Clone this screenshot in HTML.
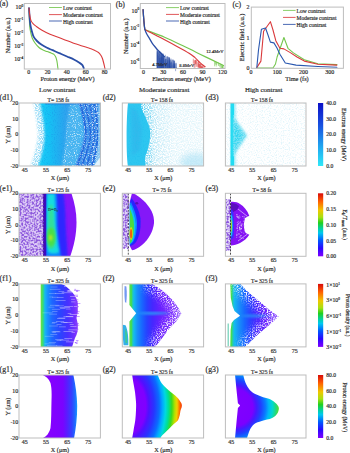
<!DOCTYPE html>
<html><head><meta charset="utf-8"><style>
html,body{margin:0;padding:0;background:#fff;width:350px;height:453px;overflow:hidden}
svg{display:block}
text{font-family:"Liberation Serif",serif;stroke:#2a2a2a;stroke-width:0.18px}
</style></head><body>
<svg width="350" height="453" viewBox="0 0 350 453">
<defs><linearGradient id="cbE" x1="0" y1="0" x2="0" y2="1">
<stop offset="0" stop-color="#0c10c8"/><stop offset="0.35" stop-color="#1850e0"/><stop offset="0.7" stop-color="#20a8f0"/><stop offset="1" stop-color="#30e8f8"/></linearGradient><linearGradient id="cbJ" x1="0" y1="0" x2="0" y2="1"><stop offset="0" stop-color="#d80a0a"/><stop offset="0.13" stop-color="#ff6000"/><stop offset="0.27" stop-color="#f0c800"/><stop offset="0.38" stop-color="#a8e010"/><stop offset="0.47" stop-color="#20d020"/><stop offset="0.57" stop-color="#00d0b0"/><stop offset="0.63" stop-color="#00c8f0"/><stop offset="0.75" stop-color="#0058ff"/><stop offset="0.87" stop-color="#2808ff"/><stop offset="1" stop-color="#8000ff"/></linearGradient><clipPath id="cp00"><rect x="19" y="103" width="81.40" height="63"/></clipPath><clipPath id="cp01"><rect x="122.3" y="103" width="81.30" height="63"/></clipPath><clipPath id="cp02"><rect x="225.4" y="103" width="80.60" height="63"/></clipPath><clipPath id="cp10"><rect x="19" y="193.3" width="81.40" height="63"/></clipPath><clipPath id="cp11"><rect x="122.3" y="193.3" width="81.30" height="63"/></clipPath><clipPath id="cp12"><rect x="225.4" y="193.3" width="80.60" height="63"/></clipPath><clipPath id="cp20"><rect x="19" y="283.9" width="81.40" height="63"/></clipPath><clipPath id="cp21"><rect x="122.3" y="283.9" width="81.30" height="63"/></clipPath><clipPath id="cp22"><rect x="225.4" y="283.9" width="80.60" height="63"/></clipPath><clipPath id="cp30"><rect x="19" y="375" width="81.40" height="63"/></clipPath><clipPath id="cp31"><rect x="122.3" y="375" width="81.30" height="63"/></clipPath><clipPath id="cp32"><rect x="225.4" y="375" width="80.60" height="63"/></clipPath><filter id="bl05" x="-30%" y="-30%" width="160%" height="160%"><feGaussianBlur stdDeviation="0.5"/></filter><filter id="bl1" x="-30%" y="-30%" width="160%" height="160%"><feGaussianBlur stdDeviation="0.8"/></filter><filter id="bl2" x="-30%" y="-30%" width="160%" height="160%"><feGaussianBlur stdDeviation="1.6"/></filter><filter id="bl3" x="-30%" y="-30%" width="160%" height="160%"><feGaussianBlur stdDeviation="3"/></filter><linearGradient id="gd1" gradientUnits="userSpaceOnUse" x1="33" y1="0" x2="100" y2="0">
<stop offset="0" stop-color="#40d4f6"/><stop offset="0.08" stop-color="#18cef8"/><stop offset="0.25" stop-color="#16c0f4"/><stop offset="0.4" stop-color="#24acf0"/><stop offset="0.5" stop-color="#30a2ee"/><stop offset="1" stop-color="#3494ea"/></linearGradient><filter id="nzW1" x="0" y="0" width="100%" height="100%" filterUnits="objectBoundingBox" color-interpolation-filters="sRGB"><feTurbulence type="fractalNoise" baseFrequency="0.9" numOctaves="1" seed="5"/><feColorMatrix type="matrix" values="0 0 0 0 1.000  0 0 0 0 1.000  0 0 0 0 1.000  4 0 0 0 -2.15"/></filter><filter id="nzW2" x="0" y="0" width="100%" height="100%" filterUnits="objectBoundingBox" color-interpolation-filters="sRGB"><feTurbulence type="fractalNoise" baseFrequency="0.9" numOctaves="1" seed="11"/><feColorMatrix type="matrix" values="0 0 0 0 1.000  0 0 0 0 1.000  0 0 0 0 1.000  4 0 0 0 -2.05"/></filter><filter id="nzB1" x="0" y="0" width="100%" height="100%" filterUnits="objectBoundingBox" color-interpolation-filters="sRGB"><feTurbulence type="fractalNoise" baseFrequency="0.9" numOctaves="1" seed="7"/><feColorMatrix type="matrix" values="0 0 0 0 0.110  0 0 0 0 0.416  0 0 0 0 0.847  4 0 0 0 -2.0"/></filter><filter id="nzC1" x="0" y="0" width="100%" height="100%" filterUnits="objectBoundingBox" color-interpolation-filters="sRGB"><feTurbulence type="fractalNoise" baseFrequency="0.9" numOctaves="1" seed="13"/><feColorMatrix type="matrix" values="0 0 0 0 0.102  0 0 0 0 0.596  0 0 0 0 0.910  4 0 0 0 -2.1"/></filter><mask id="mkd1lens" maskUnits="userSpaceOnUse" x="19" y="100" width="85" height="70"><path d="M71,100 C68.5,110 66.5,122 66,134 C65.5,146 63.5,156 61,169 L74.5,169 C79,156 82.5,146 84,134 C83.5,122 81,111 78,100 Z" fill="#fff" filter="url(#bl1)"/></mask><clipPath id="cpd1band"><path d="M78,102 C81,111 83.5,122 84,134 C82.5,146 79,156 74.5,167 L94,167 C96.5,158 98.4,146 98.4,134 L98.4,102 Z"/></clipPath><clipPath id="cpd1fill"><path d="M35.6,102 L36.5,106 L37.8,110 L38.2,114 L39.5,118 L39.8,122 L40.8,126 L40.6,130 L41.2,134 L40.4,138 L40.6,142 L39.6,146 L39.2,150 L38,154 L37.2,158 L35.2,162 L33,167 L101,167 L101,102 Z"/></clipPath><mask id="mkd1fr" maskUnits="userSpaceOnUse" x="19" y="100" width="40" height="70"><path d="M32.5,100 L39.5,100 C41.5,110 44,122 44.5,134 C44.5,146 41.5,156 37.5,169 L30,169 C33.5,156 37.5,146 38,134 C37.5,122 35,110 32.5,100 Z" fill="#fff" filter="url(#bl1)"/></mask><linearGradient id="gd2bg" gradientUnits="userSpaceOnUse" x1="138" y1="0" x2="204" y2="0">
<stop offset="0" stop-color="#58cef2"/><stop offset="0.12" stop-color="#90dcf4"/><stop offset="0.3" stop-color="#c8ecf8"/><stop offset="0.55" stop-color="#e2f5fb"/><stop offset="1" stop-color="#e6f6fb"/></linearGradient><filter id="nzW3" x="0" y="0" width="100%" height="100%" filterUnits="objectBoundingBox" color-interpolation-filters="sRGB"><feTurbulence type="fractalNoise" baseFrequency="0.85" numOctaves="1" seed="21"/><feColorMatrix type="matrix" values="0 0 0 0 1.000  0 0 0 0 1.000  0 0 0 0 1.000  4 0 0 0 -1.5"/></filter><filter id="nzC3" x="0" y="0" width="100%" height="100%" filterUnits="objectBoundingBox" color-interpolation-filters="sRGB"><feTurbulence type="fractalNoise" baseFrequency="0.85" numOctaves="1" seed="23"/><feColorMatrix type="matrix" values="0 0 0 0 0.133  0 0 0 0 0.753  0 0 0 0 0.933  4 0 0 0 -2.15"/></filter><filter id="nzW4" x="0" y="0" width="100%" height="100%" filterUnits="objectBoundingBox" color-interpolation-filters="sRGB"><feTurbulence type="fractalNoise" baseFrequency="0.85" numOctaves="1" seed="31"/><feColorMatrix type="matrix" values="0 0 0 0 1.000  0 0 0 0 1.000  0 0 0 0 1.000  4 0 0 0 -1.1"/></filter><filter id="nzW5" x="0" y="0" width="100%" height="100%" filterUnits="objectBoundingBox" color-interpolation-filters="sRGB"><feTurbulence type="fractalNoise" baseFrequency="0.7" numOctaves="1" seed="41"/><feColorMatrix type="matrix" values="0 0 0 0 1.000  0 0 0 0 1.000  0 0 0 0 1.000  4 0 0 0 -1.45"/></filter><filter id="nzP5" x="0" y="0" width="100%" height="100%" filterUnits="objectBoundingBox" color-interpolation-filters="sRGB"><feTurbulence type="fractalNoise" baseFrequency="0.55" numOctaves="1" seed="43"/><feColorMatrix type="matrix" values="0 0 0 0 0.549  0 0 0 0 0.345  0 0 0 0 0.863  4 0 0 0 -1.6"/></filter><linearGradient id="gf1" gradientUnits="userSpaceOnUse" x1="40.7" y1="0" x2="78" y2="0">
<stop offset="0" stop-color="#70e040"/><stop offset="0.04" stop-color="#48e060"/><stop offset="0.08" stop-color="#28d0a0"/><stop offset="0.11" stop-color="#18b8f0"/><stop offset="0.18" stop-color="#1894ff"/><stop offset="0.3" stop-color="#1c68ff"/><stop offset="0.52" stop-color="#2a44ff"/><stop offset="0.73" stop-color="#4830ff"/><stop offset="0.9" stop-color="#7030ff"/><stop offset="1" stop-color="#8a40ff"/></linearGradient><linearGradient id="gf2" gradientUnits="userSpaceOnUse" x1="129.4" y1="0" x2="181.4" y2="0">
<stop offset="0" stop-color="#58e048"/><stop offset="0.04" stop-color="#40dc58"/><stop offset="0.065" stop-color="#20c8c0"/><stop offset="0.09" stop-color="#14b8f0"/><stop offset="0.15" stop-color="#1890f8"/><stop offset="0.24" stop-color="#1868ff"/><stop offset="0.34" stop-color="#2840ff"/><stop offset="0.44" stop-color="#4428ff"/><stop offset="0.6" stop-color="#6a20ff"/><stop offset="0.8" stop-color="#8030ff"/><stop offset="1" stop-color="#a878ff"/></linearGradient><filter id="nzW6" x="0" y="0" width="100%" height="100%" filterUnits="objectBoundingBox" color-interpolation-filters="sRGB"><feTurbulence type="fractalNoise" baseFrequency="0.8" numOctaves="1" seed="61"/><feColorMatrix type="matrix" values="0 0 0 0 1.000  0 0 0 0 1.000  0 0 0 0 1.000  4 0 0 0 -1.7"/></filter><mask id="mkf2" maskUnits="userSpaceOnUse" x="115" y="275" width="95" height="80"><path d="M148,281 L151.6,283.9 L158.1,287.6 L165.6,293.1 L173,300.6 L178.6,308 L181.4,313.6 L176.7,321 L169.3,328.4 L163.7,335.9 L158.1,343.3 L154.4,349" fill="none" stroke="#fff" stroke-width="16" filter="url(#bl3)"/></mask><linearGradient id="gf3" gradientUnits="userSpaceOnUse" x1="229.6" y1="0" x2="279" y2="0">
<stop offset="0" stop-color="#58e048"/><stop offset="0.04" stop-color="#40dc58"/><stop offset="0.07" stop-color="#20c8c0"/><stop offset="0.1" stop-color="#14b8f0"/><stop offset="0.19" stop-color="#1890f8"/><stop offset="0.3" stop-color="#1868ff"/><stop offset="0.42" stop-color="#2c40ff"/><stop offset="0.54" stop-color="#4828ff"/><stop offset="0.74" stop-color="#6a20ff"/><stop offset="1" stop-color="#a878ff"/></linearGradient><mask id="mkf3" maskUnits="userSpaceOnUse" x="220" y="275" width="95" height="80"><path d="M236,280 L240.1,283.9 L247.3,291.3 L258.4,300.6 L269.6,309.9 L278.9,316.4 L269.6,324.7 L258.4,334 L249.1,343.3 L243.6,349" fill="none" stroke="#fff" stroke-width="16" filter="url(#bl3)"/></mask><linearGradient id="gg1" gradientUnits="userSpaceOnUse" x1="51" y1="0" x2="77.5" y2="0">
<stop offset="0" stop-color="#8400ff"/><stop offset="0.45" stop-color="#7a04ff"/><stop offset="0.6" stop-color="#5a1cff"/><stop offset="0.78" stop-color="#3440ff"/><stop offset="0.9" stop-color="#2068ff"/><stop offset="1" stop-color="#14a0ff"/></linearGradient><radialGradient id="gg2" gradientUnits="userSpaceOnUse" cx="130" cy="406" r="52.3" gradientTransform="translate(130,406) scale(1,1.7) translate(-130,-406)">
<stop offset="0" stop-color="#8200ff"/><stop offset="0.3" stop-color="#8000ff"/><stop offset="0.36" stop-color="#5010ff"/><stop offset="0.46" stop-color="#2834ff"/><stop offset="0.56" stop-color="#0a6cff"/><stop offset="0.62" stop-color="#00a8ff"/><stop offset="0.68" stop-color="#00d8e0"/><stop offset="0.74" stop-color="#00e090"/><stop offset="0.8" stop-color="#38dc20"/><stop offset="0.86" stop-color="#b8e000"/><stop offset="0.9" stop-color="#f0d000"/><stop offset="0.95" stop-color="#ff7000"/><stop offset="1" stop-color="#f02000"/></radialGradient><radialGradient id="gg3" gradientUnits="userSpaceOnUse" cx="234" cy="407.5" r="44.8">
<stop offset="0" stop-color="#8200ff"/><stop offset="0.42" stop-color="#7c00ff"/><stop offset="0.5" stop-color="#4818ff"/><stop offset="0.6" stop-color="#2040ff"/><stop offset="0.7" stop-color="#0a78ff"/><stop offset="0.78" stop-color="#00b8f8"/><stop offset="0.86" stop-color="#00d8d0"/><stop offset="0.93" stop-color="#20d880"/><stop offset="1" stop-color="#50e030"/></radialGradient></defs>
<rect width="350" height="453" fill="#fff"/>
<text x="-0.6" y="6.4" font-size="7.8" text-anchor="start" fill="#2e2e2e" >(a)</text>
<text x="23.2" y="9.1" font-size="5.95" text-anchor="end" fill="#2e2e2e">10<tspan dy="-2.3" font-size="3.6">0</tspan></text>
<text x="23.2" y="22.1" font-size="5.95" text-anchor="end" fill="#2e2e2e">10<tspan dy="-2.3" font-size="3.6">-1</tspan></text>
<text x="23.2" y="35.1" font-size="5.95" text-anchor="end" fill="#2e2e2e">10<tspan dy="-2.3" font-size="3.6">-2</tspan></text>
<text x="23.2" y="48.1" font-size="5.95" text-anchor="end" fill="#2e2e2e">10<tspan dy="-2.3" font-size="3.6">-3</tspan></text>
<text x="23.2" y="61.1" font-size="5.95" text-anchor="end" fill="#2e2e2e">10<tspan dy="-2.3" font-size="3.6">-4</tspan></text>
<text x="28.7" y="74.1" font-size="5.95" text-anchor="middle" fill="#2e2e2e" >0</text>
<text x="47.6" y="74.1" font-size="5.95" text-anchor="middle" fill="#2e2e2e" >20</text>
<text x="66.8" y="74.1" font-size="5.95" text-anchor="middle" fill="#2e2e2e" >40</text>
<text x="85.7" y="74.1" font-size="5.95" text-anchor="middle" fill="#2e2e2e" >60</text>
<text x="104.6" y="74.1" font-size="5.95" text-anchor="middle" fill="#2e2e2e" >80</text>
<text x="0" y="0" font-size="6.3" text-anchor="middle" fill="#2e2e2e" transform="translate(9.9,35.5) rotate(-90)">Number (a.u.)</text>
<text x="67.6" y="80.6" font-size="6.3" text-anchor="middle" fill="#2e2e2e" >Proton energy (MeV)</text>
<path d="M29.0,8.1 C29.1,9.8 29.2,14.8 29.3,18.0 C29.4,21.2 29.6,24.6 29.8,27.1 C30.1,29.6 30.4,31.2 30.8,33.0 C31.2,34.8 31.5,36.3 32.2,38.0 C32.9,39.7 33.9,41.4 35.0,43.0 C36.1,44.6 37.7,46.3 39.0,47.5 C40.3,48.7 41.6,49.3 43.0,50.0 C44.4,50.7 45.8,51.1 47.1,51.6 C48.4,52.1 49.9,52.5 51.0,52.9 C52.1,53.3 53.1,53.7 53.9,54.3 C54.6,54.9 55.0,55.6 55.5,56.5 C56.0,57.4 56.3,58.5 56.6,59.7 C56.9,60.9 57.1,62.2 57.3,63.5 C57.5,64.8 57.7,66.6 57.8,67.5 C57.9,68.4 58.0,68.8 58.0,69.0" fill="none" stroke="#74c64e" stroke-width="1.1" stroke-linejoin="round" stroke-linecap="round" />
<path d="M29.0,8.1 C29.1,9.4 29.3,13.3 29.5,16.0 C29.7,18.7 29.9,21.9 30.3,24.4 C30.7,26.9 31.2,29.0 31.8,31.0 C32.4,33.0 32.7,34.9 33.6,36.6 C34.5,38.3 35.6,39.6 37.0,41.0 C38.4,42.4 40.0,43.7 41.7,44.8 C43.4,45.9 45.2,46.9 47.0,47.8 C48.8,48.7 50.3,49.2 52.6,50.2 C54.9,51.2 58.3,52.7 60.7,53.7 C63.1,54.8 64.7,55.5 67.0,56.5 C69.3,57.5 72.3,58.7 74.3,59.7 C76.3,60.7 77.7,61.6 79.0,62.5 C80.3,63.4 81.6,64.1 82.4,65.1 C83.2,66.1 83.6,67.9 83.8,68.4" fill="none" stroke="#2a4ea6" stroke-width="1.8" stroke-linejoin="round" stroke-linecap="round" />
<path d="M29.0,8.1 C29.1,9.1 29.3,11.9 29.6,14.0 C29.9,16.1 30.3,18.8 30.9,20.4 C31.5,22.0 32.1,22.6 33.0,23.6 C33.9,24.6 34.8,25.3 36.3,26.4 C37.8,27.5 39.7,28.9 42.0,30.2 C44.3,31.5 46.8,32.8 50.0,34.2 C53.2,35.6 57.6,37.1 61.4,38.6 C65.2,40.1 69.0,41.6 73.0,43.0 C77.0,44.4 82.7,46.1 85.7,47.1 C88.7,48.1 89.4,48.2 91.0,48.8 C92.6,49.4 94.2,50.1 95.4,50.7 C96.7,51.3 97.7,51.9 98.5,52.5 C99.3,53.1 99.9,53.9 100.4,54.6 C101.0,55.4 101.4,56.1 101.8,57.0 C102.2,57.9 102.6,58.9 102.9,60.0 C103.2,61.1 103.5,62.4 103.8,63.5 C104.1,64.6 104.3,65.6 104.5,66.5 C104.7,67.4 104.9,68.5 105.0,68.9" fill="none" stroke="#da3a3c" stroke-width="1.1" stroke-linejoin="round" stroke-linecap="round" />
<line x1="49.0" y1="7.5" x2="61.9" y2="7.5" stroke="#74c64e" stroke-width="0.85" />
<text x="63.0" y="10.2" font-size="5.5" text-anchor="start" fill="#2e2e2e" >Low contrast</text>
<line x1="49.0" y1="14.6" x2="61.9" y2="14.6" stroke="#da3a3c" stroke-width="0.85" />
<text x="63.0" y="17.3" font-size="5.5" text-anchor="start" fill="#2e2e2e" >Moderate contrast</text>
<line x1="49.0" y1="21.0" x2="61.9" y2="21.0" stroke="#2a4ea6" stroke-width="0.85" />
<text x="63.0" y="23.7" font-size="5.5" text-anchor="start" fill="#2e2e2e" >High contrast</text>
<rect x="24.30" y="3.50" width="86.20" height="65.50" fill="none" stroke="#bdbdbd" stroke-width="1.0"/>
<text x="115.8" y="6.6" font-size="7.8" text-anchor="start" fill="#2e2e2e" >(b)</text>
<text x="139.2" y="12.6" font-size="5.95" text-anchor="end" fill="#2e2e2e">10<tspan dy="-2.3" font-size="3.6">0</tspan></text>
<text x="139.2" y="29.6" font-size="5.95" text-anchor="end" fill="#2e2e2e">10<tspan dy="-2.3" font-size="3.6">-2</tspan></text>
<text x="139.2" y="46.6" font-size="5.95" text-anchor="end" fill="#2e2e2e">10<tspan dy="-2.3" font-size="3.6">-4</tspan></text>
<text x="139.2" y="63.6" font-size="5.95" text-anchor="end" fill="#2e2e2e">10<tspan dy="-2.3" font-size="3.6">-6</tspan></text>
<text x="143.4" y="74.1" font-size="5.95" text-anchor="middle" fill="#2e2e2e" >0</text>
<text x="163.2" y="74.1" font-size="5.95" text-anchor="middle" fill="#2e2e2e" >30</text>
<text x="182.9" y="74.1" font-size="5.95" text-anchor="middle" fill="#2e2e2e" >60</text>
<text x="202.6" y="74.1" font-size="5.95" text-anchor="middle" fill="#2e2e2e" >90</text>
<text x="222.4" y="74.1" font-size="5.95" text-anchor="middle" fill="#2e2e2e" >120</text>
<text x="0" y="0" font-size="6.3" text-anchor="middle" fill="#2e2e2e" transform="translate(127.6,36.2) rotate(-90)">Number (a.u.)</text>
<text x="181.5" y="80.6" font-size="6.3" text-anchor="middle" fill="#2e2e2e" >Electron energy (MeV)</text>
<path d="M143.1,9.7 C143.2,10.8 143.3,13.9 143.5,16.0 C143.7,18.1 143.8,20.2 144.0,22.0 C144.2,23.8 144.3,25.8 144.5,27.0 C144.7,28.2 144.3,28.7 144.9,29.3 C145.5,29.9 144.7,29.5 148.0,30.8 C151.3,32.1 158.4,34.5 164.6,37.2 C170.8,39.9 178.3,43.6 185.0,46.8 C191.7,50.0 198.6,53.5 205.0,56.6 C211.4,59.7 220.4,64.0 223.5,65.5" fill="none" stroke="#74c64e" stroke-width="1.2" stroke-linejoin="round" stroke-linecap="round" />
<path d="M143.1,9.7 C143.2,10.8 143.3,13.9 143.5,16.0 C143.7,18.1 143.8,20.2 144.0,22.0 C144.2,23.8 144.3,25.8 144.5,27.0 C144.7,28.2 144.5,28.7 144.9,29.3 C145.3,29.9 143.7,29.1 147.0,30.8 C150.3,32.5 159.6,37.1 164.6,39.7 C169.6,42.3 172.9,44.1 177.0,46.4 C181.1,48.6 186.1,51.3 189.1,53.2 C192.1,55.1 193.3,56.2 195.0,57.6 C196.7,59.0 197.8,60.6 199.0,61.8 C200.2,62.9 201.0,63.7 202.0,64.5 C203.0,65.3 204.6,66.3 205.1,66.7" fill="none" stroke="#da3a3c" stroke-width="1.2" stroke-linejoin="round" stroke-linecap="round" />
<path d="M143.1,9.7 C143.2,10.8 143.3,13.9 143.5,16.0 C143.7,18.1 143.8,20.2 144.0,22.0 C144.2,23.8 144.3,25.8 144.5,27.0 C144.7,28.2 144.6,28.2 144.9,29.3 C145.2,30.4 145.8,32.1 146.5,33.5 C147.2,34.9 148.0,36.0 149.0,37.6 C150.0,39.2 151.1,41.6 152.3,43.3 C153.5,45.0 154.8,46.5 156.0,48.0 C157.2,49.5 158.3,50.5 159.7,52.0 C161.1,53.5 163.8,56.1 164.6,56.9" fill="none" stroke="#2a4ea6" stroke-width="1.3" stroke-linejoin="round" stroke-linecap="round" />
<line x1="161.8" y1="54.9" x2="161.8" y2="68.5" stroke="#2a4ea6" stroke-width="0.45" />
<line x1="169.1" y1="57.5" x2="169.1" y2="68.5" stroke="#2a4ea6" stroke-width="0.45" />
<line x1="157.3" y1="52.3" x2="157.3" y2="68.5" stroke="#2a4ea6" stroke-width="0.45" />
<line x1="161.7" y1="58.0" x2="161.7" y2="68.5" stroke="#2a4ea6" stroke-width="0.45" />
<line x1="173.7" y1="63.5" x2="173.7" y2="68.5" stroke="#2a4ea6" stroke-width="0.45" />
<line x1="160.0" y1="58.0" x2="160.0" y2="68.5" stroke="#2a4ea6" stroke-width="0.45" />
<line x1="167.5" y1="62.0" x2="167.5" y2="68.5" stroke="#2a4ea6" stroke-width="0.45" />
<line x1="158.3" y1="55.7" x2="158.3" y2="68.5" stroke="#2a4ea6" stroke-width="0.45" />
<line x1="163.0" y1="53.6" x2="163.0" y2="68.5" stroke="#2a4ea6" stroke-width="0.45" />
<line x1="166.5" y1="62.9" x2="166.5" y2="68.5" stroke="#2a4ea6" stroke-width="0.45" />
<line x1="171.3" y1="62.7" x2="171.3" y2="68.5" stroke="#2a4ea6" stroke-width="0.45" />
<line x1="173.0" y1="64.4" x2="173.0" y2="68.5" stroke="#2a4ea6" stroke-width="0.45" />
<line x1="174.6" y1="60.6" x2="174.6" y2="68.5" stroke="#2a4ea6" stroke-width="0.45" />
<line x1="161.3" y1="57.2" x2="161.3" y2="68.5" stroke="#2a4ea6" stroke-width="0.45" />
<line x1="169.5" y1="59.1" x2="169.5" y2="68.5" stroke="#2a4ea6" stroke-width="0.45" />
<line x1="164.7" y1="56.7" x2="164.7" y2="68.5" stroke="#2a4ea6" stroke-width="0.45" />
<line x1="168.7" y1="64.1" x2="168.7" y2="68.5" stroke="#2a4ea6" stroke-width="0.45" />
<line x1="175.6" y1="71.2" x2="175.6" y2="68.5" stroke="#2a4ea6" stroke-width="0.45" />
<line x1="170.4" y1="59.5" x2="170.4" y2="68.5" stroke="#2a4ea6" stroke-width="0.45" />
<line x1="176.3" y1="67.6" x2="176.3" y2="68.5" stroke="#2a4ea6" stroke-width="0.45" />
<line x1="171.3" y1="60.5" x2="171.3" y2="68.5" stroke="#2a4ea6" stroke-width="0.45" />
<line x1="168.5" y1="56.8" x2="168.5" y2="68.5" stroke="#2a4ea6" stroke-width="0.45" />
<line x1="174.1" y1="61.1" x2="174.1" y2="68.5" stroke="#2a4ea6" stroke-width="0.45" />
<line x1="173.0" y1="60.2" x2="173.0" y2="68.5" stroke="#2a4ea6" stroke-width="0.45" />
<line x1="162.9" y1="61.2" x2="162.9" y2="68.5" stroke="#2a4ea6" stroke-width="0.45" />
<line x1="157.9" y1="50.4" x2="157.9" y2="68.5" stroke="#2a4ea6" stroke-width="0.45" />
<line x1="171.4" y1="61.9" x2="171.4" y2="68.5" stroke="#2a4ea6" stroke-width="0.45" />
<line x1="176.6" y1="67.7" x2="176.6" y2="68.5" stroke="#2a4ea6" stroke-width="0.45" />
<line x1="163.2" y1="53.9" x2="163.2" y2="68.5" stroke="#2a4ea6" stroke-width="0.45" />
<line x1="157.6" y1="50.9" x2="157.6" y2="68.5" stroke="#2a4ea6" stroke-width="0.45" />
<line x1="169.2" y1="57.1" x2="169.2" y2="68.5" stroke="#2a4ea6" stroke-width="0.45" />
<line x1="174.4" y1="63.9" x2="174.4" y2="68.5" stroke="#2a4ea6" stroke-width="0.45" />
<line x1="174.9" y1="62.7" x2="174.9" y2="68.5" stroke="#2a4ea6" stroke-width="0.45" />
<line x1="167.4" y1="60.6" x2="167.4" y2="68.5" stroke="#2a4ea6" stroke-width="0.45" />
<line x1="168.2" y1="63.4" x2="168.2" y2="68.5" stroke="#2a4ea6" stroke-width="0.45" />
<line x1="167.1" y1="59.5" x2="167.1" y2="68.5" stroke="#2a4ea6" stroke-width="0.45" />
<line x1="161.8" y1="56.0" x2="161.8" y2="68.5" stroke="#2a4ea6" stroke-width="0.45" />
<line x1="167.4" y1="56.0" x2="167.4" y2="68.5" stroke="#2a4ea6" stroke-width="0.45" />
<line x1="165.3" y1="54.8" x2="165.3" y2="68.5" stroke="#2a4ea6" stroke-width="0.45" />
<line x1="169.3" y1="57.6" x2="169.3" y2="68.5" stroke="#2a4ea6" stroke-width="0.45" />
<line x1="169.5" y1="61.1" x2="169.5" y2="68.5" stroke="#2a4ea6" stroke-width="0.45" />
<line x1="164.1" y1="60.1" x2="164.1" y2="68.5" stroke="#2a4ea6" stroke-width="0.45" />
<line x1="157.4" y1="50.3" x2="157.4" y2="68.5" stroke="#2a4ea6" stroke-width="0.45" />
<line x1="176.3" y1="62.8" x2="176.3" y2="68.5" stroke="#2a4ea6" stroke-width="0.45" />
<line x1="168.9" y1="58.2" x2="168.9" y2="68.5" stroke="#2a4ea6" stroke-width="0.45" />
<line x1="163.3" y1="56.0" x2="163.3" y2="68.5" stroke="#2a4ea6" stroke-width="0.45" />
<line x1="163.0" y1="56.7" x2="163.0" y2="68.5" stroke="#2a4ea6" stroke-width="0.45" />
<line x1="157.5" y1="54.9" x2="157.5" y2="68.5" stroke="#2a4ea6" stroke-width="0.45" />
<line x1="163.2" y1="55.5" x2="163.2" y2="68.5" stroke="#2a4ea6" stroke-width="0.45" />
<line x1="161.8" y1="53.4" x2="161.8" y2="68.5" stroke="#2a4ea6" stroke-width="0.45" />
<line x1="171.0" y1="58.5" x2="171.0" y2="68.5" stroke="#2a4ea6" stroke-width="0.45" />
<line x1="163.7" y1="58.0" x2="163.7" y2="68.5" stroke="#2a4ea6" stroke-width="0.45" />
<line x1="174.1" y1="60.8" x2="174.1" y2="68.5" stroke="#2a4ea6" stroke-width="0.45" />
<line x1="170.0" y1="62.4" x2="170.0" y2="68.5" stroke="#2a4ea6" stroke-width="0.45" />
<line x1="161.5" y1="53.1" x2="161.5" y2="68.5" stroke="#2a4ea6" stroke-width="0.45" />
<line x1="160.8" y1="60.0" x2="160.8" y2="68.5" stroke="#2a4ea6" stroke-width="0.45" />
<line x1="160.7" y1="54.5" x2="160.7" y2="68.5" stroke="#2a4ea6" stroke-width="0.45" />
<line x1="169.8" y1="60.8" x2="169.8" y2="68.5" stroke="#2a4ea6" stroke-width="0.45" />
<line x1="159.6" y1="53.9" x2="159.6" y2="68.5" stroke="#2a4ea6" stroke-width="0.45" />
<line x1="162.4" y1="54.6" x2="162.4" y2="68.5" stroke="#2a4ea6" stroke-width="0.45" />
<line x1="165.4" y1="59.2" x2="165.4" y2="68.5" stroke="#2a4ea6" stroke-width="0.45" />
<line x1="160.1" y1="51.5" x2="160.1" y2="68.5" stroke="#2a4ea6" stroke-width="0.45" />
<line x1="174.6" y1="65.6" x2="174.6" y2="68.5" stroke="#2a4ea6" stroke-width="0.45" />
<line x1="176.0" y1="63.8" x2="176.0" y2="68.5" stroke="#2a4ea6" stroke-width="0.45" />
<line x1="171.9" y1="65.4" x2="171.9" y2="68.5" stroke="#2a4ea6" stroke-width="0.45" />
<line x1="167.4" y1="57.1" x2="167.4" y2="68.5" stroke="#2a4ea6" stroke-width="0.45" />
<line x1="161.5" y1="52.8" x2="161.5" y2="68.5" stroke="#2a4ea6" stroke-width="0.45" />
<line x1="162.7" y1="53.5" x2="162.7" y2="68.5" stroke="#2a4ea6" stroke-width="0.45" />
<line x1="175.1" y1="68.4" x2="175.1" y2="68.5" stroke="#2a4ea6" stroke-width="0.45" />
<line x1="174.9" y1="66.8" x2="174.9" y2="68.5" stroke="#2a4ea6" stroke-width="0.45" />
<line x1="157.3" y1="51.2" x2="157.3" y2="68.5" stroke="#2a4ea6" stroke-width="0.45" />
<line x1="163.0" y1="57.4" x2="163.0" y2="68.5" stroke="#2a4ea6" stroke-width="0.45" />
<line x1="165.3" y1="61.5" x2="165.3" y2="68.5" stroke="#2a4ea6" stroke-width="0.45" />
<line x1="163.8" y1="56.3" x2="163.8" y2="68.5" stroke="#2a4ea6" stroke-width="0.45" />
<line x1="166.5" y1="58.7" x2="166.5" y2="68.5" stroke="#2a4ea6" stroke-width="0.45" />
<line x1="160.9" y1="57.2" x2="160.9" y2="68.5" stroke="#2a4ea6" stroke-width="0.45" />
<line x1="160.4" y1="60.4" x2="160.4" y2="68.5" stroke="#2a4ea6" stroke-width="0.45" />
<line x1="173.1" y1="59.6" x2="173.1" y2="68.5" stroke="#2a4ea6" stroke-width="0.45" />
<line x1="169.6" y1="57.8" x2="169.6" y2="68.5" stroke="#2a4ea6" stroke-width="0.45" />
<line x1="162.4" y1="54.6" x2="162.4" y2="68.5" stroke="#2a4ea6" stroke-width="0.45" />
<line x1="165.5" y1="59.2" x2="165.5" y2="68.5" stroke="#2a4ea6" stroke-width="0.45" />
<line x1="157.0" y1="49.6" x2="157.0" y2="68.5" stroke="#2a4ea6" stroke-width="0.45" />
<line x1="159.5" y1="51.8" x2="159.5" y2="68.5" stroke="#2a4ea6" stroke-width="0.45" />
<line x1="174.1" y1="60.6" x2="174.1" y2="68.5" stroke="#2a4ea6" stroke-width="0.45" />
<line x1="163.3" y1="54.7" x2="163.3" y2="68.5" stroke="#2a4ea6" stroke-width="0.45" />
<line x1="169.9" y1="60.1" x2="169.9" y2="68.5" stroke="#2a4ea6" stroke-width="0.45" />
<line x1="160.8" y1="52.4" x2="160.8" y2="68.5" stroke="#2a4ea6" stroke-width="0.45" />
<line x1="168.1" y1="59.7" x2="168.1" y2="68.5" stroke="#2a4ea6" stroke-width="0.45" />
<line x1="158.6" y1="51.3" x2="158.6" y2="68.5" stroke="#2a4ea6" stroke-width="0.45" />
<line x1="169.1" y1="60.6" x2="169.1" y2="68.5" stroke="#2a4ea6" stroke-width="0.45" />
<line x1="173.0" y1="62.7" x2="173.0" y2="68.5" stroke="#2a4ea6" stroke-width="0.45" />
<line x1="164.4" y1="58.3" x2="164.4" y2="68.5" stroke="#2a4ea6" stroke-width="0.45" />
<line x1="165.4" y1="58.6" x2="165.4" y2="68.5" stroke="#2a4ea6" stroke-width="0.45" />
<line x1="161.9" y1="57.0" x2="161.9" y2="68.5" stroke="#2a4ea6" stroke-width="0.45" />
<line x1="158.4" y1="52.6" x2="158.4" y2="68.5" stroke="#2a4ea6" stroke-width="0.45" />
<line x1="174.6" y1="64.6" x2="174.6" y2="68.5" stroke="#2a4ea6" stroke-width="0.45" />
<line x1="175.0" y1="63.1" x2="175.0" y2="68.5" stroke="#2a4ea6" stroke-width="0.45" />
<line x1="166.3" y1="56.5" x2="166.3" y2="68.5" stroke="#2a4ea6" stroke-width="0.45" />
<line x1="170.2" y1="66.2" x2="170.2" y2="68.5" stroke="#2a4ea6" stroke-width="0.45" />
<line x1="170.4" y1="62.7" x2="170.4" y2="68.5" stroke="#2a4ea6" stroke-width="0.45" />
<line x1="159.1" y1="50.8" x2="159.1" y2="68.5" stroke="#2a4ea6" stroke-width="0.45" />
<line x1="159.9" y1="51.7" x2="159.9" y2="68.5" stroke="#2a4ea6" stroke-width="0.45" />
<line x1="158.8" y1="51.7" x2="158.8" y2="68.5" stroke="#2a4ea6" stroke-width="0.45" />
<line x1="160.6" y1="52.0" x2="160.6" y2="68.5" stroke="#2a4ea6" stroke-width="0.45" />
<line x1="159.4" y1="57.8" x2="159.4" y2="68.5" stroke="#2a4ea6" stroke-width="0.45" />
<line x1="173.7" y1="66.5" x2="173.7" y2="68.5" stroke="#2a4ea6" stroke-width="0.45" />
<line x1="173.0" y1="59.7" x2="173.0" y2="68.5" stroke="#2a4ea6" stroke-width="0.45" />
<line x1="167.2" y1="56.8" x2="167.2" y2="68.5" stroke="#2a4ea6" stroke-width="0.45" />
<line x1="172.0" y1="59.5" x2="172.0" y2="68.5" stroke="#2a4ea6" stroke-width="0.45" />
<line x1="163.5" y1="59.1" x2="163.5" y2="68.5" stroke="#2a4ea6" stroke-width="0.45" />
<line x1="196.1" y1="60.1" x2="196.1" y2="64.3" stroke="#da3a3c" stroke-width="0.5" />
<line x1="201.0" y1="65.7" x2="201.0" y2="68.5" stroke="#da3a3c" stroke-width="0.5" />
<line x1="197.8" y1="62.0" x2="197.8" y2="66.8" stroke="#da3a3c" stroke-width="0.5" />
<line x1="198.4" y1="61.6" x2="198.4" y2="67.1" stroke="#da3a3c" stroke-width="0.5" />
<line x1="205.6" y1="68.4" x2="205.6" y2="68.5" stroke="#da3a3c" stroke-width="0.5" />
<line x1="195.1" y1="60.7" x2="195.1" y2="67.5" stroke="#da3a3c" stroke-width="0.5" />
<line x1="201.8" y1="65.6" x2="201.8" y2="68.5" stroke="#da3a3c" stroke-width="0.5" />
<line x1="201.4" y1="66.4" x2="201.4" y2="68.5" stroke="#da3a3c" stroke-width="0.5" />
<line x1="194.2" y1="60.2" x2="194.2" y2="67.8" stroke="#da3a3c" stroke-width="0.5" />
<line x1="199.7" y1="63.7" x2="199.7" y2="68.5" stroke="#da3a3c" stroke-width="0.5" />
<line x1="195.4" y1="59.7" x2="195.4" y2="63.7" stroke="#da3a3c" stroke-width="0.5" />
<line x1="200.6" y1="64.0" x2="200.6" y2="68.2" stroke="#da3a3c" stroke-width="0.5" />
<line x1="202.0" y1="67.0" x2="202.0" y2="68.5" stroke="#da3a3c" stroke-width="0.5" />
<line x1="202.2" y1="65.6" x2="202.2" y2="68.5" stroke="#da3a3c" stroke-width="0.5" />
<line x1="200.6" y1="63.9" x2="200.6" y2="68.0" stroke="#da3a3c" stroke-width="0.5" />
<line x1="193.3" y1="58.7" x2="193.3" y2="63.6" stroke="#da3a3c" stroke-width="0.5" />
<line x1="195.2" y1="59.9" x2="195.2" y2="64.5" stroke="#da3a3c" stroke-width="0.5" />
<line x1="203.1" y1="65.5" x2="203.1" y2="68.5" stroke="#da3a3c" stroke-width="0.5" />
<line x1="199.2" y1="63.8" x2="199.2" y2="68.5" stroke="#da3a3c" stroke-width="0.5" />
<line x1="203.8" y1="68.1" x2="203.8" y2="68.5" stroke="#da3a3c" stroke-width="0.5" />
<line x1="199.3" y1="64.2" x2="199.3" y2="68.5" stroke="#da3a3c" stroke-width="0.5" />
<line x1="198.2" y1="63.4" x2="198.2" y2="68.5" stroke="#da3a3c" stroke-width="0.5" />
<line x1="199.1" y1="62.5" x2="199.1" y2="66.7" stroke="#da3a3c" stroke-width="0.5" />
<line x1="202.3" y1="66.5" x2="202.3" y2="68.5" stroke="#da3a3c" stroke-width="0.5" />
<line x1="204.1" y1="66.6" x2="204.1" y2="68.5" stroke="#da3a3c" stroke-width="0.5" />
<line x1="196.4" y1="60.3" x2="196.4" y2="66.8" stroke="#da3a3c" stroke-width="0.5" />
<line x1="222.3" y1="66.0" x2="222.3" y2="68.5" stroke="#74c64e" stroke-width="0.5" />
<line x1="222.4" y1="64.8" x2="222.4" y2="68.1" stroke="#74c64e" stroke-width="0.5" />
<line x1="220.7" y1="63.5" x2="220.7" y2="65.8" stroke="#74c64e" stroke-width="0.5" />
<line x1="222.0" y1="64.6" x2="222.0" y2="67.7" stroke="#74c64e" stroke-width="0.5" />
<line x1="219.0" y1="63.8" x2="219.0" y2="65.9" stroke="#74c64e" stroke-width="0.5" />
<line x1="216.0" y1="61.9" x2="216.0" y2="65.3" stroke="#74c64e" stroke-width="0.5" />
<line x1="214.5" y1="61.4" x2="214.5" y2="66.3" stroke="#74c64e" stroke-width="0.5" />
<line x1="216.7" y1="62.4" x2="216.7" y2="64.8" stroke="#74c64e" stroke-width="0.5" />
<line x1="215.3" y1="62.0" x2="215.3" y2="64.3" stroke="#74c64e" stroke-width="0.5" />
<line x1="222.6" y1="66.1" x2="222.6" y2="68.4" stroke="#74c64e" stroke-width="0.5" />
<line x1="223.3" y1="65.4" x2="223.3" y2="68.5" stroke="#74c64e" stroke-width="0.5" />
<line x1="221.1" y1="64.1" x2="221.1" y2="68.2" stroke="#74c64e" stroke-width="0.5" />
<line x1="219.8" y1="64.5" x2="219.8" y2="67.3" stroke="#74c64e" stroke-width="0.5" />
<line x1="221.1" y1="65.4" x2="221.1" y2="68.5" stroke="#74c64e" stroke-width="0.5" />
<line x1="218.4" y1="62.4" x2="218.4" y2="65.9" stroke="#74c64e" stroke-width="0.5" />
<line x1="216.2" y1="62.5" x2="216.2" y2="66.6" stroke="#74c64e" stroke-width="0.5" />
<text x="152.3" y="65.8" font-size="4.5" text-anchor="start" fill="#2e2e2e" >4.7MeV</text>
<text x="179.3" y="66.6" font-size="4.5" text-anchor="start" fill="#2e2e2e" >8.8MeV</text>
<text x="206.3" y="53.1" font-size="4.5" text-anchor="start" fill="#2e2e2e" >12.4MeV</text>
<line x1="166.0" y1="7.6" x2="179.0" y2="7.6" stroke="#74c64e" stroke-width="0.85" />
<text x="180.0" y="10.1" font-size="5.5" text-anchor="start" fill="#2e2e2e" >Low contrast</text>
<line x1="166.0" y1="14.4" x2="179.0" y2="14.4" stroke="#da3a3c" stroke-width="0.85" />
<text x="180.0" y="16.9" font-size="5.5" text-anchor="start" fill="#2e2e2e" >Moderate contrast</text>
<line x1="166.0" y1="21.0" x2="179.0" y2="21.0" stroke="#2a4ea6" stroke-width="0.85" />
<text x="180.0" y="23.5" font-size="5.5" text-anchor="start" fill="#2e2e2e" >High contrast</text>
<rect x="140.30" y="3.50" width="84.70" height="65.00" fill="none" stroke="#bdbdbd" stroke-width="1.0"/>
<text x="232.4" y="6.8" font-size="7.8" text-anchor="start" fill="#2e2e2e" >(c)</text>
<text x="249.4" y="8.8" font-size="5.95" text-anchor="end" fill="#2e2e2e" >2</text>
<text x="249.4" y="39.7" font-size="5.95" text-anchor="end" fill="#2e2e2e" >1</text>
<text x="249.4" y="69.9" font-size="5.95" text-anchor="end" fill="#2e2e2e" >0</text>
<text x="251.0" y="74.4" font-size="5.95" text-anchor="middle" fill="#2e2e2e" >0</text>
<text x="277.2" y="74.4" font-size="5.95" text-anchor="middle" fill="#2e2e2e" >100</text>
<text x="303.5" y="74.4" font-size="5.95" text-anchor="middle" fill="#2e2e2e" >200</text>
<text x="329.7" y="74.4" font-size="5.95" text-anchor="middle" fill="#2e2e2e" >300</text>
<text x="0" y="0" font-size="6.3" text-anchor="middle" fill="#2e2e2e" transform="translate(243.8,37.5) rotate(-90)">Electric field (a.u.)</text>
<text x="297.0" y="81.2" font-size="6.3" text-anchor="middle" fill="#2e2e2e" >Time (fs)</text>
<path d="M256.8,68.0 L273.0,68.0 L275.5,64.0 L277.1,57.0 L283.9,37.5 L288.0,48.3 L293.4,52.9 L304.3,59.7 L317.9,63.8 L336.9,64.6" fill="none" stroke="#74c64e" stroke-width="1.1" stroke-linejoin="round" stroke-linecap="round" />
<path d="M256.8,67.6 L260.9,61.1 L263.6,31.2 L270.4,21.7 L273.0,30.0 L275.8,40.7 L279.9,48.3 L283.9,48.9 L290.7,52.9 L297.0,57.0 L304.3,61.1 L317.9,64.3 L336.9,65.1" fill="none" stroke="#da3a3c" stroke-width="1.1" stroke-linejoin="round" stroke-linecap="round" />
<path d="M256.8,67.6 L258.5,50.0 L261.4,29.3 L265.5,28.0 L268.0,35.0 L270.4,42.1 L273.9,42.9 L277.0,48.0 L279.9,54.3 L285.3,63.0 L296.1,65.1 L317.9,66.5 L336.9,67.3" fill="none" stroke="#2a58b0" stroke-width="1.1" stroke-linejoin="round" stroke-linecap="round" />
<line x1="283.0" y1="10.4" x2="295.6" y2="10.4" stroke="#74c64e" stroke-width="0.85" />
<text x="296.6" y="12.8" font-size="5.5" text-anchor="start" fill="#2e2e2e" >Low contrast</text>
<line x1="283.0" y1="17.4" x2="295.6" y2="17.4" stroke="#da3a3c" stroke-width="0.85" />
<text x="296.6" y="19.8" font-size="5.5" text-anchor="start" fill="#2e2e2e" >Moderate contrast</text>
<line x1="283.0" y1="24.4" x2="295.6" y2="24.4" stroke="#2a4ea6" stroke-width="0.85" />
<text x="296.6" y="26.8" font-size="5.5" text-anchor="start" fill="#2e2e2e" >High contrast</text>
<rect x="251.30" y="7.10" width="92.10" height="61.20" fill="none" stroke="#bdbdbd" stroke-width="1.0"/>
<text x="57.2" y="92.4" font-size="6.95" text-anchor="middle" fill="#2e2e2e" >Low contrast</text>
<text x="164.2" y="92.4" font-size="6.95" text-anchor="middle" fill="#2e2e2e" >Moderate contrast</text>
<text x="263.7" y="92.4" font-size="6.95" text-anchor="middle" fill="#2e2e2e" >High contrast</text>
<g clip-path="url(#cp00)">
<g clip-path="url(#cpd1fill)">
<rect x="19" y="103" width="82" height="63" fill="url(#gd1)"/>
<rect x="19" y="103" width="82" height="63" filter="url(#nzC1)" opacity="0.5"/>
<g mask="url(#mkd1lens)"><rect x="58" y="103" width="30" height="63" fill="#48b4f0"/>
<rect x="58" y="103" width="30" height="63" filter="url(#nzW1)" opacity="0.85"/>
</g>
<g clip-path="url(#cpd1band)"><rect x="74" y="103" width="26" height="63" fill="#3c90ea"/>
<path d="M80,102 C82.5,112 86,124 86,134 C86,146 80,156 77,167" fill="none" stroke="#1a5ad6" stroke-width="1.6" opacity="0.75"/>
<path d="M84.5,102 C87.0,112 90.5,124 90.5,134 C90.5,146 84.5,156 81.5,167" fill="none" stroke="#1a5ad6" stroke-width="1.6" opacity="0.75"/>
<path d="M89,102 C91.5,112 94.5,124 94.5,134 C94.5,146 89.5,156 86.5,167" fill="none" stroke="#1a5ad6" stroke-width="1.6" opacity="0.75"/>
<path d="M93.5,102 C96.0,112 97.8,124 97.8,134 C97.8,146 94.5,156 91.5,167" fill="none" stroke="#1a5ad6" stroke-width="1.6" opacity="0.75"/>
<rect x="74" y="103" width="26" height="63" filter="url(#nzW2)" opacity="0.7"/>
</g>
<path d="M98.4,102 L101,102 L101,167 L94,167 C96.5,158 98.4,146 98.4,134 Z" fill="#84c4f2"/>
<rect x="92" y="103" width="9" height="63" filter="url(#nzW2)" opacity="0.6"/>
<path d="M93,167 L101,156 L101,167 Z" fill="#e4f4fc" filter="url(#bl05)"/>
<rect x="45" y="103" width="56" height="1.6" fill="#2070e0" opacity="0.5"/>
</g>
<g mask="url(#mkd1fr)"><rect x="19" y="103" width="40" height="63" fill="#8ed8f6"/>
<rect x="19" y="103" width="40" height="63" filter="url(#nzW3)" />
</g>
</g>
<g clip-path="url(#cp01)">
<rect x="128" y="103" width="76" height="63" fill="url(#gd2bg)"/>
<rect x="128" y="103" width="76" height="63" filter="url(#nzW3)" />
<ellipse cx="196" cy="162" rx="16" ry="9" fill="#a8e0f4" opacity="0.6" filter="url(#bl3)"/>
<path d="M128.3,101.0 C130.2,89.8 137.3,99.8 139.5,101.0 C141.7,102.2 140.8,105.8 141.5,108.0 C142.2,110.2 143.0,111.7 144.0,114.0 C145.0,116.3 146.5,119.5 147.5,122.0 C148.5,124.5 149.4,126.7 149.8,129.0 C150.2,131.3 150.3,133.5 150.2,136.0 C150.1,138.5 149.5,141.3 149.0,144.0 C148.5,146.7 147.7,149.7 147.0,152.0 C146.3,154.3 145.5,155.3 145.0,158.0 C144.5,160.7 146.8,166.3 144.0,168.0 C141.2,169.7 130.9,179.2 128.3,168.0 C125.7,156.8 126.4,112.2 128.3,101.0 Z" fill="#2ec6f0" filter="url(#bl05)"/>
<path d="M131,108 L137,110 L142,128 L140,150 L132,156 Z" fill="#30b0ea" opacity="0.5" filter="url(#bl2)"/>
<rect x="128" y="103" width="24" height="63" filter="url(#nzC3)" opacity="0.6"/>
</g>
<g clip-path="url(#cp02)">
<rect x="225.4" y="103" width="81" height="63" fill="#e2f5fb"/>
<rect x="225.4" y="103" width="81" height="63" filter="url(#nzW4)" />
<rect x="231" y="102" width="5" height="65" fill="#7ee4f6" opacity="0.6" filter="url(#bl1)"/>
<rect x="230.5" y="102" width="3.6" height="65" fill="#22dcf2" filter="url(#bl05)"/>
<path d="M233.5,116.5 L247.2,135.6 L233.5,156 Z" fill="#60dcf2" filter="url(#bl1)"/>
<path d="M233.8,122 L242.5,135.6 L233.8,150 Z" fill="#34d6f0" filter="url(#bl1)"/>
<rect x="233.5" y="115" width="14" height="42" filter="url(#nzW3)" opacity="0.3"/>
</g>
<g clip-path="url(#cp10)">
<rect x="19" y="193.3" width="25" height="63" fill="#dccaf6"/>
<rect x="19" y="193.3" width="25" height="63" filter="url(#nzP5)" />
<path d="M43.4,193 L71.3,193 C74.5,202 76.5,212 76.5,222 C76.5,234 74,246 70,257 L43.4,257 Z" fill="#8416f8"/>
<path d="M44.6,193 L63.3,193 C65,203 65.5,213 65.6,222 C65.8,234 67.5,246 67.6,257 L44.6,257 Z" fill="#2e28ff" filter="url(#bl1)"/>
<path d="M46,193 L56.5,193 C57.5,205 57.6,215 57.5,222 C57.6,234 59.5,246 61,257 L46,257 Z" fill="#0a88ff" filter="url(#bl1)"/>
<path d="M47.3,194 L54.5,194 C55.2,205 55.4,215 55.3,222 C55.5,232 57,240 59,252 C56,254 52,254 48,252 C46.8,240 46.5,230 46.5,222 C46.5,212 46.8,204 47.3,194 Z" fill="#14dce0" filter="url(#bl1)"/>
<path d="M49.5,205 L52.5,205 C53.5,215 54.5,225 55.2,235 C55.6,242 55,247 53,249 L48.5,249 C47.5,240 47.6,228 48.2,218 Z" fill="#38e090" filter="url(#bl1)" opacity="0.85"/>
<ellipse cx="51" cy="237" rx="4.4" ry="9.5" fill="#48e048" filter="url(#bl1)"/>
<ellipse cx="50.7" cy="237.7" rx="1.6" ry="3" fill="#b8e828" filter="url(#bl1)"/>
<rect x="43.6" y="193.3" width="2.6" height="63" fill="#3a00b0" opacity="0.8" filter="url(#bl05)"/>
<line x1="43.4" y1="193.3" x2="43.4" y2="256.4" stroke="#111" stroke-width="0.6" stroke-dasharray="2,1.2" opacity="0.7"/>
<text x="48" y="211.3" font-size="5.6" fill="#1a5058" style="stroke:#1a5058;stroke-width:0.1px">n=n<tspan font-size="3.8" dy="1">c</tspan></text>
</g>
<g clip-path="url(#cp11)">
<rect x="122.3" y="193.3" width="5.8" height="55" fill="#ddd0f8"/>
<rect x="122.3" y="193.3" width="5.8" height="55" filter="url(#nzP5)" />
<line x1="128.3" y1="193.3" x2="128.3" y2="256.4" stroke="#333" stroke-width="0.8" stroke-dasharray="2,1.3"/>
<path d="M129.8,201.5 L132,193 C140,196 147,203 151.5,211 C153.5,215 154.2,219 154,223 C153.2,231 149,239 142,245 C138.5,248 135,249.8 132,250.3 L129.8,246 Z" fill="#8418f8"/>
<path d="M129.8,203 L131.5,198 C135.5,203 139,210 140.5,218 C141.2,226 140,236 136,242 C134,244.5 131.5,246 129.8,246 Z" fill="#2a24ff" filter="url(#bl05)"/>
<path d="M129.8,204 L131,202 C133.5,208 136.5,214 137,222 C137.2,230 135.8,238 133,242 L129.8,245 Z" fill="#0a84ff" filter="url(#bl05)"/>
<path d="M129.8,206 L130.8,205 C132.5,210 135,216 135.5,224 C135.5,231 134.3,238 132.5,241.5 L129.8,244 Z" fill="#10c4f0" filter="url(#bl05)"/>
<path d="M129.8,209 C131.5,212 133.6,218 134,225 C134,232 133,238 131.5,242 L129.8,243.5 Z" fill="#48dc40" filter="url(#bl05)"/>
<ellipse cx="131.1" cy="233.5" rx="1.7" ry="6.5" fill="#d8e018" filter="url(#bl05)"/>
<ellipse cx="131.1" cy="233.8" rx="1.1" ry="4.8" fill="#f06010" filter="url(#bl05)"/>
<ellipse cx="136.7" cy="203.3" rx="1.6" ry="1.3" fill="#4010a0" opacity="0.7" filter="url(#bl05)"/>
</g>
<g clip-path="url(#cp12)">
<rect x="224.8" y="199" width="5.4" height="52" fill="#e6dcfa"/>
<rect x="224.8" y="199" width="5.4" height="52" filter="url(#nzP5)" />
<path d="M230.8,202 C234,201.5 238,202.5 240,204 C244,206.5 247,210 249.3,215.7 L245.1,218.1 C244.3,221 243.9,223 243.9,225.8 C244,229 244.8,231 245.7,233 L249.3,234.8 C247,238.5 244,241 240,243 C237,244.5 234,245.3 230.8,245.5 Z" fill="#8412f4"/>
<path d="M231,203 C234,203 237,204 239,206 C238,209 236,211 233,212 L231,212 Z" fill="#4a08a8" opacity="0.7" filter="url(#bl05)"/>
<path d="M238,209 L247.5,216.5" stroke="#e8dcfc" stroke-width="0.8" opacity="0.8"/>
<path d="M238,241 L247.5,234" stroke="#e8dcfc" stroke-width="0.8" opacity="0.8"/>
<rect x="238.6" y="217.6" width="1.0" height="1.0" fill="#c0a8f8" opacity="0.7"/>
<rect x="236.4" y="233.7" width="1.0" height="1.0" fill="#ffffff" opacity="0.7"/>
<rect x="238.9" y="215.4" width="1.0" height="1.0" fill="#c0a8f8" opacity="0.7"/>
<rect x="237.7" y="216.1" width="1.0" height="1.0" fill="#d8c8fa" opacity="0.7"/>
<rect x="236.6" y="216.2" width="1.0" height="1.0" fill="#d8c8fa" opacity="0.7"/>
<rect x="236.5" y="227.6" width="1.0" height="1.0" fill="#ffffff" opacity="0.7"/>
<rect x="241.0" y="228.0" width="1.0" height="1.0" fill="#ffffff" opacity="0.7"/>
<rect x="240.6" y="223.5" width="1.0" height="1.0" fill="#ffffff" opacity="0.7"/>
<rect x="236.4" y="234.6" width="1.0" height="1.0" fill="#d8c8fa" opacity="0.7"/>
<rect x="239.4" y="227.0" width="1.0" height="1.0" fill="#c0a8f8" opacity="0.7"/>
<rect x="238.5" y="233.6" width="1.0" height="1.0" fill="#ffffff" opacity="0.7"/>
<rect x="236.8" y="227.7" width="1.0" height="1.0" fill="#ffffff" opacity="0.7"/>
<rect x="239.0" y="227.1" width="1.0" height="1.0" fill="#ffffff" opacity="0.7"/>
<rect x="240.5" y="228.9" width="1.0" height="1.0" fill="#d8c8fa" opacity="0.7"/>
<rect x="241.4" y="224.3" width="1.0" height="1.0" fill="#d8c8fa" opacity="0.7"/>
<rect x="239.7" y="236.2" width="1.0" height="1.0" fill="#d8c8fa" opacity="0.7"/>
<rect x="238.4" y="233.1" width="1.0" height="1.0" fill="#c0a8f8" opacity="0.7"/>
<rect x="242.2" y="216.0" width="1.0" height="1.0" fill="#d8c8fa" opacity="0.7"/>
<rect x="240.2" y="235.0" width="1.0" height="1.0" fill="#c0a8f8" opacity="0.7"/>
<rect x="239.6" y="228.6" width="1.0" height="1.0" fill="#ffffff" opacity="0.7"/>
<rect x="236.9" y="224.0" width="1.0" height="1.0" fill="#d8c8fa" opacity="0.7"/>
<rect x="237.2" y="225.7" width="1.0" height="1.0" fill="#ffffff" opacity="0.7"/>
<rect x="243.7" y="215.9" width="1.0" height="1.0" fill="#c0a8f8" opacity="0.7"/>
<rect x="240.6" y="235.0" width="1.0" height="1.0" fill="#d8c8fa" opacity="0.7"/>
<rect x="238.7" y="222.4" width="1.0" height="1.0" fill="#d8c8fa" opacity="0.7"/>
<rect x="240.6" y="224.9" width="1.0" height="1.0" fill="#ffffff" opacity="0.7"/>
<rect x="243.6" y="225.4" width="1.0" height="1.0" fill="#c0a8f8" opacity="0.7"/>
<rect x="236.5" y="231.5" width="1.0" height="1.0" fill="#d8c8fa" opacity="0.7"/>
<rect x="241.2" y="237.8" width="1.0" height="1.0" fill="#d8c8fa" opacity="0.7"/>
<rect x="238.3" y="223.3" width="1.0" height="1.0" fill="#c0a8f8" opacity="0.7"/>
<rect x="238.8" y="236.6" width="1.0" height="1.0" fill="#d8c8fa" opacity="0.7"/>
<rect x="237.3" y="216.8" width="1.0" height="1.0" fill="#ffffff" opacity="0.7"/>
<rect x="237.7" y="220.9" width="1.0" height="1.0" fill="#c0a8f8" opacity="0.7"/>
<rect x="238.0" y="223.4" width="1.0" height="1.0" fill="#d8c8fa" opacity="0.7"/>
<rect x="236.6" y="224.8" width="1.0" height="1.0" fill="#c0a8f8" opacity="0.7"/>
<rect x="238.2" y="217.3" width="1.0" height="1.0" fill="#d8c8fa" opacity="0.7"/>
<rect x="242.9" y="220.7" width="1.0" height="1.0" fill="#d8c8fa" opacity="0.7"/>
<rect x="243.9" y="230.4" width="1.0" height="1.0" fill="#d8c8fa" opacity="0.7"/>
<rect x="243.7" y="217.6" width="1.0" height="1.0" fill="#ffffff" opacity="0.7"/>
<rect x="237.2" y="229.8" width="1.0" height="1.0" fill="#ffffff" opacity="0.7"/>
<rect x="239.9" y="228.1" width="1.0" height="1.0" fill="#d8c8fa" opacity="0.7"/>
<rect x="238.3" y="217.5" width="1.0" height="1.0" fill="#c0a8f8" opacity="0.7"/>
<rect x="239.0" y="227.6" width="1.0" height="1.0" fill="#ffffff" opacity="0.7"/>
<rect x="241.5" y="226.4" width="1.0" height="1.0" fill="#c0a8f8" opacity="0.7"/>
<rect x="241.2" y="231.8" width="1.0" height="1.0" fill="#d8c8fa" opacity="0.7"/>
<rect x="243.2" y="232.7" width="1.0" height="1.0" fill="#c0a8f8" opacity="0.7"/>
<rect x="242.4" y="223.4" width="1.0" height="1.0" fill="#d8c8fa" opacity="0.7"/>
<rect x="239.2" y="225.6" width="1.0" height="1.0" fill="#d8c8fa" opacity="0.7"/>
<rect x="236.5" y="215.6" width="1.0" height="1.0" fill="#ffffff" opacity="0.7"/>
<rect x="239.5" y="216.6" width="1.0" height="1.0" fill="#c0a8f8" opacity="0.7"/>
<rect x="236.4" y="214.0" width="1.0" height="1.0" fill="#ffffff" opacity="0.7"/>
<rect x="240.3" y="236.8" width="1.0" height="1.0" fill="#c0a8f8" opacity="0.7"/>
<rect x="236.2" y="235.0" width="1.0" height="1.0" fill="#c0a8f8" opacity="0.7"/>
<rect x="239.0" y="229.2" width="1.0" height="1.0" fill="#d8c8fa" opacity="0.7"/>
<rect x="240.8" y="225.4" width="1.0" height="1.0" fill="#ffffff" opacity="0.7"/>
<rect x="242.8" y="237.8" width="1.0" height="1.0" fill="#d8c8fa" opacity="0.7"/>
<rect x="239.8" y="221.5" width="1.0" height="1.0" fill="#ffffff" opacity="0.7"/>
<rect x="236.8" y="222.2" width="1.0" height="1.0" fill="#d8c8fa" opacity="0.7"/>
<rect x="239.8" y="230.6" width="1.0" height="1.0" fill="#c0a8f8" opacity="0.7"/>
<rect x="236.2" y="236.8" width="1.0" height="1.0" fill="#c0a8f8" opacity="0.7"/>
<path d="M230.8,209 L233,211 C234.3,218 234.5,228 233.5,238 L230.8,240 Z" fill="#3a30ff" filter="url(#bl05)"/>
<path d="M230.8,214 L232.2,216 C232.9,222 232.9,229 232.2,235 L230.8,237 Z" fill="#12c8e8" filter="url(#bl05)"/>
<path d="M230.8,219 L231.7,221 C232.1,224 232.1,228 231.7,231 L230.8,233 Z" fill="#a0e030" filter="url(#bl05)"/>
<line x1="230.5" y1="193.3" x2="230.5" y2="256.4" stroke="#222" stroke-width="0.8" stroke-dasharray="2,1.3"/>
</g>
<g clip-path="url(#cp20)">
<path d="M40.7,283.5 L60.0,283.5 L65.0,285.5 L69.5,289.5 L72.0,292.0 L74.8,295.5 L76.5,299.0 L77.8,303.0 L77.8,312.0 L76.5,318.0 L77.8,324.0 L77.8,330.0 L76.5,335.0 L75.0,338.0 L74.0,341.0 L71.8,347.6 L40.7,347.6 Z" fill="url(#gf1)" />
<rect x="59.6" y="307.1" width="10.3" height="0.6" fill="#ffffff" opacity="0.56"/>
<rect x="51.6" y="331.2" width="8.1" height="0.6" fill="#ffffff" opacity="0.44"/>
<rect x="66.8" y="290.6" width="7.1" height="0.6" fill="#ffffff" opacity="0.60"/>
<rect x="56.5" y="340.4" width="4.8" height="0.6" fill="#ffffff" opacity="0.46"/>
<rect x="57.0" y="318.0" width="8.1" height="0.6" fill="#ffffff" opacity="0.50"/>
<rect x="63.4" y="322.4" width="9.1" height="0.6" fill="#ffffff" opacity="0.59"/>
<rect x="52.0" y="296.9" width="6.2" height="0.6" fill="#ffffff" opacity="0.42"/>
<rect x="50.3" y="334.0" width="6.9" height="0.6" fill="#ffffff" opacity="0.41"/>
<rect x="68.4" y="329.6" width="9.3" height="0.6" fill="#ffffff" opacity="0.65"/>
<rect x="49.2" y="313.8" width="7.8" height="0.6" fill="#ffffff" opacity="0.41"/>
<rect x="64.2" y="306.0" width="8.8" height="0.6" fill="#ffffff" opacity="0.59"/>
<rect x="73.7" y="306.3" width="3.6" height="0.6" fill="#ffffff" opacity="0.64"/>
<rect x="58.5" y="291.2" width="5.7" height="0.6" fill="#ffffff" opacity="0.49"/>
<rect x="69.7" y="314.4" width="7.9" height="0.6" fill="#ffffff" opacity="0.65"/>
<rect x="69.9" y="285.1" width="5.8" height="0.6" fill="#ffffff" opacity="0.62"/>
<rect x="69.7" y="324.2" width="4.0" height="0.6" fill="#ffffff" opacity="0.60"/>
<rect x="65.9" y="308.7" width="4.6" height="0.6" fill="#ffffff" opacity="0.56"/>
<rect x="55.2" y="339.2" width="8.1" height="0.6" fill="#ffffff" opacity="0.48"/>
<rect x="67.8" y="290.3" width="8.8" height="0.6" fill="#ffffff" opacity="0.63"/>
<rect x="67.6" y="313.3" width="3.7" height="0.6" fill="#ffffff" opacity="0.57"/>
<rect x="74.6" y="294.7" width="3.2" height="0.6" fill="#ffffff" opacity="0.65"/>
<rect x="55.9" y="321.0" width="8.2" height="0.6" fill="#ffffff" opacity="0.49"/>
<rect x="60.7" y="322.3" width="6.8" height="0.6" fill="#ffffff" opacity="0.53"/>
<rect x="48.7" y="342.2" width="7.4" height="0.6" fill="#ffffff" opacity="0.40"/>
<rect x="64.0" y="286.3" width="8.8" height="0.6" fill="#ffffff" opacity="0.59"/>
<rect x="67.4" y="291.3" width="4.1" height="0.6" fill="#ffffff" opacity="0.57"/>
<rect x="47.1" y="345.2" width="10.0" height="0.6" fill="#ffffff" opacity="0.41"/>
<rect x="50.5" y="286.7" width="7.0" height="0.6" fill="#ffffff" opacity="0.41"/>
<rect x="53.1" y="331.6" width="7.4" height="0.6" fill="#ffffff" opacity="0.45"/>
<rect x="44.7" y="335.9" width="8.9" height="0.6" fill="#ffffff" opacity="0.37"/>
<rect x="59.7" y="339.8" width="9.5" height="0.6" fill="#ffffff" opacity="0.55"/>
<rect x="63.5" y="316.5" width="10.0" height="0.6" fill="#ffffff" opacity="0.60"/>
<rect x="48.9" y="293.0" width="7.1" height="0.6" fill="#ffffff" opacity="0.40"/>
<rect x="64.3" y="338.2" width="7.9" height="0.6" fill="#ffffff" opacity="0.58"/>
<rect x="51.8" y="332.3" width="4.1" height="0.6" fill="#ffffff" opacity="0.39"/>
<rect x="51.6" y="322.8" width="3.5" height="0.6" fill="#ffffff" opacity="0.39"/>
<rect x="58.9" y="326.6" width="6.9" height="0.6" fill="#ffffff" opacity="0.51"/>
<rect x="71.5" y="332.4" width="3.5" height="0.6" fill="#ffffff" opacity="0.61"/>
<rect x="49.3" y="296.7" width="3.8" height="0.6" fill="#ffffff" opacity="0.36"/>
<rect x="42.6" y="312.6" width="10.2" height="0.6" fill="#ffffff" opacity="0.36"/>
<rect x="49.7" y="288.9" width="10.8" height="0.6" fill="#ffffff" opacity="0.45"/>
<rect x="52.0" y="322.0" width="5.2" height="0.6" fill="#ffffff" opacity="0.41"/>
<rect x="65.9" y="316.0" width="7.1" height="0.6" fill="#ffffff" opacity="0.59"/>
<rect x="55.6" y="300.1" width="10.0" height="0.6" fill="#ffffff" opacity="0.51"/>
<rect x="65.9" y="341.6" width="10.1" height="0.6" fill="#ffffff" opacity="0.63"/>
<rect x="57.3" y="297.4" width="6.3" height="0.6" fill="#ffffff" opacity="0.48"/>
<rect x="51.8" y="308.9" width="8.4" height="0.6" fill="#ffffff" opacity="0.44"/>
<rect x="52.1" y="311.1" width="5.4" height="0.6" fill="#ffffff" opacity="0.41"/>
<rect x="61.7" y="292.5" width="10.5" height="0.6" fill="#ffffff" opacity="0.58"/>
<rect x="56.5" y="324.3" width="5.0" height="0.6" fill="#ffffff" opacity="0.46"/>
<rect x="55.2" y="293.4" width="9.0" height="0.6" fill="#ffffff" opacity="0.49"/>
<rect x="70.7" y="290.7" width="4.3" height="0.6" fill="#ffffff" opacity="0.62"/>
<rect x="49.2" y="325.7" width="8.7" height="0.6" fill="#ffffff" opacity="0.42"/>
<rect x="56.1" y="345.6" width="6.4" height="0.6" fill="#ffffff" opacity="0.47"/>
<rect x="48.5" y="306.8" width="5.9" height="0.6" fill="#ffffff" opacity="0.38"/>
<rect x="55.3" y="305.6" width="8.6" height="0.6" fill="#ffffff" opacity="0.49"/>
<rect x="60.1" y="308.4" width="5.4" height="0.6" fill="#ffffff" opacity="0.51"/>
<rect x="44.6" y="343.6" width="10.3" height="0.6" fill="#ffffff" opacity="0.38"/>
<rect x="71.1" y="298.9" width="3.7" height="0.6" fill="#ffffff" opacity="0.61"/>
<rect x="71.1" y="301.6" width="4.5" height="0.6" fill="#ffffff" opacity="0.62"/>
<rect x="63.5" y="331.1" width="9.8" height="0.6" fill="#ffffff" opacity="0.60"/>
<rect x="70.3" y="326.2" width="6.2" height="0.6" fill="#ffffff" opacity="0.63"/>
<rect x="58.4" y="317.7" width="7.0" height="0.6" fill="#ffffff" opacity="0.50"/>
<rect x="49.9" y="304.9" width="9.4" height="0.6" fill="#ffffff" opacity="0.43"/>
<rect x="70.1" y="296.2" width="5.2" height="0.6" fill="#ffffff" opacity="0.62"/>
<rect x="74.3" y="288.9" width="1.8" height="0.7" fill="#8a40ff" opacity="0.7"/>
<rect x="74.7" y="322.1" width="1.8" height="0.7" fill="#8a40ff" opacity="0.7"/>
<rect x="74.0" y="294.8" width="4.0" height="0.7" fill="#8a40ff" opacity="0.7"/>
<rect x="76.7" y="311.4" width="2.9" height="0.7" fill="#8a40ff" opacity="0.7"/>
<rect x="76.1" y="290.4" width="3.8" height="0.7" fill="#8a40ff" opacity="0.7"/>
<rect x="74.8" y="342.3" width="1.5" height="0.7" fill="#8a40ff" opacity="0.7"/>
<rect x="75.9" y="340.2" width="2.6" height="0.7" fill="#8a40ff" opacity="0.7"/>
<rect x="75.3" y="299.5" width="3.0" height="0.7" fill="#8a40ff" opacity="0.7"/>
<rect x="76.4" y="303.1" width="4.0" height="0.7" fill="#8a40ff" opacity="0.7"/>
<rect x="74.1" y="290.1" width="2.5" height="0.7" fill="#8a40ff" opacity="0.7"/>
<rect x="75.5" y="342.8" width="1.7" height="0.7" fill="#8a40ff" opacity="0.7"/>
<rect x="76.0" y="313.0" width="3.0" height="0.7" fill="#8a40ff" opacity="0.7"/>
<rect x="75.6" y="324.8" width="3.7" height="0.7" fill="#8a40ff" opacity="0.7"/>
<rect x="74.9" y="342.3" width="1.6" height="0.7" fill="#8a40ff" opacity="0.7"/>
<rect x="74.6" y="300.9" width="3.6" height="0.7" fill="#8a40ff" opacity="0.7"/>
<rect x="74.4" y="328.8" width="4.0" height="0.7" fill="#8a40ff" opacity="0.7"/>
<rect x="76.5" y="343.0" width="1.0" height="0.7" fill="#8a40ff" opacity="0.7"/>
<rect x="76.6" y="323.0" width="2.3" height="0.7" fill="#8a40ff" opacity="0.7"/>
<rect x="76.0" y="291.1" width="2.1" height="0.7" fill="#8a40ff" opacity="0.7"/>
<rect x="76.9" y="316.3" width="2.8" height="0.7" fill="#8a40ff" opacity="0.7"/>
<rect x="74.1" y="326.8" width="1.6" height="0.7" fill="#8a40ff" opacity="0.7"/>
<rect x="74.0" y="303.1" width="2.1" height="0.7" fill="#8a40ff" opacity="0.7"/>
<rect x="77.0" y="306.4" width="2.0" height="0.7" fill="#8a40ff" opacity="0.7"/>
<rect x="76.6" y="289.9" width="1.7" height="0.7" fill="#8a40ff" opacity="0.7"/>
<rect x="75.0" y="298.2" width="1.3" height="0.7" fill="#8a40ff" opacity="0.7"/>
<rect x="76.0" y="303.6" width="1.7" height="0.7" fill="#8a40ff" opacity="0.7"/>
<rect x="74.3" y="331.5" width="3.5" height="0.7" fill="#8a40ff" opacity="0.7"/>
<rect x="75.8" y="296.1" width="2.2" height="0.7" fill="#8a40ff" opacity="0.7"/>
<rect x="75.9" y="304.8" width="1.3" height="0.7" fill="#8a40ff" opacity="0.7"/>
<rect x="76.6" y="341.6" width="1.5" height="0.7" fill="#8a40ff" opacity="0.7"/>
</g>
<g clip-path="url(#cp21)">
<path d="M129.4,283.5 L151.6,283.5 L158.1,287.6 L165.6,293.1 L173.0,300.6 L178.6,308.0 L181.4,313.6 L176.7,321.0 L169.3,328.4 L163.7,335.9 L158.1,343.3 L154.4,347.6 L129.4,347.6 L129.4,321.5 L136.2,313.3 L129.4,305.0 Z" fill="url(#gf2)" />
<path d="M136.2,313.3 C145,311.4 160,311.6 172,313.3 C160,315 145,315.2 136.2,313.3 Z" fill="#2aa0f6" filter="url(#bl1)" opacity="0.9"/>
<g mask="url(#mkf2)">
<rect x="125" y="280" width="65" height="72" filter="url(#nzW6)" />
</g>
<path d="M124.6,286 L126.4,286.5 C127,292 126.9,298 126.2,303 L125,302 C124.4,297 124.2,291 124.6,286 Z" fill="#5a88f0" opacity="0.85"/>
<path d="M122.6,324.7 L125.5,325.2 C127.5,329 128.6,336 128.3,345.2 L123.6,345.2 C122.8,338 122.4,331 122.6,324.7 Z" fill="#34b0e8"/>
<path d="M125,328 L127,333 L127.3,343 L125.5,343 Z" fill="#40d080" opacity="0.8"/>
</g>
<g clip-path="url(#cp22)">
<path d="M230.2,283.5 L240.1,283.5 L247.3,291.3 L258.4,300.6 L269.6,309.9 L278.9,316.4 L269.6,324.7 L258.4,334.0 L249.1,343.3 L243.6,347.6 L230.2,347.6 L230.6,330.0 L231.6,323.0 L234.0,320.0 L240.1,315.8 L234.5,311.0 L232.5,306.0 L230.8,298.0 Z" fill="url(#gf3)" />
<path d="M240,315.8 C248,314 262,314.2 272,316 C262,317.8 248,318 240,315.8 Z" fill="#2a98f6" filter="url(#bl1)" opacity="0.8"/>
<rect x="227.7" y="323.5" width="0.9" height="22.6" fill="#40c0a0"/>
<g mask="url(#mkf3)">
<rect x="226" y="280" width="65" height="72" filter="url(#nzW6)" />
</g>
</g>
<g clip-path="url(#cp30)">
<path d="M41.8,374.5 L73.3,374.5 C75.5,385 77,395 77.2,406 C77.2,418 76,428 74,438.5 L41.8,438.5 C46,437 49,434 50.5,428 C51.5,420 51.2,410 51.5,400 C51.8,392 51.5,387 50.5,383 C48.5,378 45,376 41.8,374.5 Z" fill="url(#gg1)"/>
</g>
<g clip-path="url(#cp31)">
<path d="M157.5,374.5 C158.2,376.0 159.8,380.7 161.7,383.3 C163.5,385.9 166.0,388.0 168.6,390.3 C171.2,392.6 174.9,395.1 177.0,397.2 C179.1,399.3 180.3,401.3 181.1,402.8 C181.9,404.3 181.9,404.9 181.8,406.3 C181.7,407.7 180.8,409.6 180.4,411.1 C180.1,412.6 180.2,413.7 179.7,415.3 C179.2,416.9 178.8,419.2 177.6,420.8 C176.4,422.4 174.5,423.4 172.8,425.0 C171.1,426.6 169.0,428.8 167.2,430.6 C165.3,432.5 162.8,434.8 161.7,436.1 C160.6,437.4 160.7,438.1 160.5,438.5 L132.1,438.5 L132.1,438.5 C132.3,437.1 133.1,433.1 133.6,430.0 C134.1,426.9 134.9,423.3 135.3,420.0 C135.7,416.7 135.9,413.0 136.0,410.0 C136.1,407.0 136.2,405.0 136.0,402.0 C135.8,399.0 135.4,395.0 135.0,392.0 C134.6,389.0 134.1,386.9 133.6,384.0 C133.1,381.1 132.3,376.1 132.1,374.5 Z" fill="url(#gg2)"/>
</g>
<g clip-path="url(#cp32)">
<path d="M243.1,374.5 C243.5,375.8 244.3,379.8 245.4,382.4 C246.5,385.0 248.1,387.9 249.8,389.9 C251.5,391.9 253.6,393.1 255.8,394.3 C258.0,395.5 260.7,396.4 263.2,397.3 C265.7,398.2 268.5,398.5 270.6,399.5 C272.7,400.5 274.4,401.8 275.8,403.2 C277.2,404.6 278.6,406.0 278.8,407.7 C279.1,409.4 278.4,411.9 277.3,413.6 C276.2,415.3 274.7,416.9 272.1,418.1 C269.5,419.4 264.7,420.1 261.7,421.1 C258.7,422.1 256.3,422.5 254.3,424.0 C252.3,425.5 251.0,427.6 249.8,430.0 C248.6,432.4 247.4,437.1 246.9,438.5 L235,438.5 L235.0,438.5 L236.5,422.0 L237.9,407.9 L240.2,405.5 L237.9,403.2 L236.5,390.0 L235.0,374.5 Z" fill="url(#gg3)"/>
</g>
<rect x="19.00" y="103.00" width="81.40" height="63.00" fill="none" stroke="#bdbdbd" stroke-width="1.0"/>
<text x="24.8" y="172.1" font-size="5.95" text-anchor="middle" fill="#2e2e2e" >45</text>
<text x="45.9" y="172.1" font-size="5.95" text-anchor="middle" fill="#2e2e2e" >55</text>
<text x="67.2" y="172.1" font-size="5.95" text-anchor="middle" fill="#2e2e2e" >65</text>
<text x="88.3" y="172.1" font-size="5.95" text-anchor="middle" fill="#2e2e2e" >75</text>
<text x="60.0" y="180.4" font-size="6.2" text-anchor="middle" fill="#2e2e2e" >X (μm)</text>
<text x="58.4" y="101.7" font-size="5.6" text-anchor="middle" fill="#2e2e2e" >T= 158 fs</text>
<text x="-0.4" y="100.3" font-size="7.8" text-anchor="start" fill="#2e2e2e" >(d1)</text>
<text x="18.3" y="104.9" font-size="5.95" text-anchor="end" fill="#2e2e2e" >20</text>
<text x="18.3" y="120.5" font-size="5.95" text-anchor="end" fill="#2e2e2e" >10</text>
<text x="18.3" y="136.3" font-size="5.95" text-anchor="end" fill="#2e2e2e" >0</text>
<text x="18.3" y="152.1" font-size="5.95" text-anchor="end" fill="#2e2e2e" >-10</text>
<text x="18.3" y="167.9" font-size="5.95" text-anchor="end" fill="#2e2e2e" >-20</text>
<text x="0" y="0" font-size="6.2" text-anchor="middle" fill="#2e2e2e" transform="translate(10.1,134.6) rotate(-90)">Y (μm)</text>
<rect x="122.30" y="103.00" width="81.30" height="63.00" fill="none" stroke="#bdbdbd" stroke-width="1.0"/>
<text x="128.1" y="172.1" font-size="5.95" text-anchor="middle" fill="#2e2e2e" >45</text>
<text x="149.2" y="172.1" font-size="5.95" text-anchor="middle" fill="#2e2e2e" >55</text>
<text x="170.5" y="172.1" font-size="5.95" text-anchor="middle" fill="#2e2e2e" >65</text>
<text x="191.6" y="172.1" font-size="5.95" text-anchor="middle" fill="#2e2e2e" >75</text>
<text x="163.3" y="180.4" font-size="6.2" text-anchor="middle" fill="#2e2e2e" >X (μm)</text>
<text x="162.0" y="101.7" font-size="5.6" text-anchor="middle" fill="#2e2e2e" >T= 158 fs</text>
<text x="102.7" y="100.3" font-size="7.8" text-anchor="start" fill="#2e2e2e" >(d2)</text>
<rect x="225.40" y="103.00" width="80.60" height="63.00" fill="none" stroke="#bdbdbd" stroke-width="1.0"/>
<text x="231.2" y="172.1" font-size="5.95" text-anchor="middle" fill="#2e2e2e" >45</text>
<text x="252.3" y="172.1" font-size="5.95" text-anchor="middle" fill="#2e2e2e" >55</text>
<text x="273.6" y="172.1" font-size="5.95" text-anchor="middle" fill="#2e2e2e" >65</text>
<text x="294.7" y="172.1" font-size="5.95" text-anchor="middle" fill="#2e2e2e" >75</text>
<text x="266.4" y="180.4" font-size="6.2" text-anchor="middle" fill="#2e2e2e" >X (μm)</text>
<text x="262.0" y="101.7" font-size="5.6" text-anchor="middle" fill="#2e2e2e" >T= 158 fs</text>
<text x="205.6" y="100.3" font-size="7.8" text-anchor="start" fill="#2e2e2e" >(d3)</text>
<rect x="19.00" y="193.30" width="81.40" height="63.00" fill="none" stroke="#bdbdbd" stroke-width="1.0"/>
<text x="24.8" y="262.4" font-size="5.95" text-anchor="middle" fill="#2e2e2e" >45</text>
<text x="45.9" y="262.4" font-size="5.95" text-anchor="middle" fill="#2e2e2e" >55</text>
<text x="67.2" y="262.4" font-size="5.95" text-anchor="middle" fill="#2e2e2e" >65</text>
<text x="88.3" y="262.4" font-size="5.95" text-anchor="middle" fill="#2e2e2e" >75</text>
<text x="60.0" y="270.7" font-size="6.2" text-anchor="middle" fill="#2e2e2e" >X (μm)</text>
<text x="58.4" y="192.0" font-size="5.6" text-anchor="middle" fill="#2e2e2e" >T= 125 fs</text>
<text x="-0.4" y="190.6" font-size="7.8" text-anchor="start" fill="#2e2e2e" >(e1)</text>
<text x="18.3" y="195.2" font-size="5.95" text-anchor="end" fill="#2e2e2e" >20</text>
<text x="18.3" y="210.8" font-size="5.95" text-anchor="end" fill="#2e2e2e" >10</text>
<text x="18.3" y="226.6" font-size="5.95" text-anchor="end" fill="#2e2e2e" >0</text>
<text x="18.3" y="242.4" font-size="5.95" text-anchor="end" fill="#2e2e2e" >-10</text>
<text x="18.3" y="258.2" font-size="5.95" text-anchor="end" fill="#2e2e2e" >-20</text>
<text x="0" y="0" font-size="6.2" text-anchor="middle" fill="#2e2e2e" transform="translate(10.1,224.9) rotate(-90)">Y (μm)</text>
<rect x="122.30" y="193.30" width="81.30" height="63.00" fill="none" stroke="#bdbdbd" stroke-width="1.0"/>
<text x="128.1" y="262.4" font-size="5.95" text-anchor="middle" fill="#2e2e2e" >45</text>
<text x="149.2" y="262.4" font-size="5.95" text-anchor="middle" fill="#2e2e2e" >55</text>
<text x="170.5" y="262.4" font-size="5.95" text-anchor="middle" fill="#2e2e2e" >65</text>
<text x="191.6" y="262.4" font-size="5.95" text-anchor="middle" fill="#2e2e2e" >75</text>
<text x="163.3" y="270.7" font-size="6.2" text-anchor="middle" fill="#2e2e2e" >X (μm)</text>
<text x="162.0" y="192.0" font-size="5.6" text-anchor="middle" fill="#2e2e2e" >T= 75 fs</text>
<text x="102.7" y="190.6" font-size="7.8" text-anchor="start" fill="#2e2e2e" >(e2)</text>
<rect x="225.40" y="193.30" width="80.60" height="63.00" fill="none" stroke="#bdbdbd" stroke-width="1.0"/>
<text x="231.2" y="262.4" font-size="5.95" text-anchor="middle" fill="#2e2e2e" >45</text>
<text x="252.3" y="262.4" font-size="5.95" text-anchor="middle" fill="#2e2e2e" >55</text>
<text x="273.6" y="262.4" font-size="5.95" text-anchor="middle" fill="#2e2e2e" >65</text>
<text x="294.7" y="262.4" font-size="5.95" text-anchor="middle" fill="#2e2e2e" >75</text>
<text x="266.4" y="270.7" font-size="6.2" text-anchor="middle" fill="#2e2e2e" >X (μm)</text>
<text x="262.0" y="192.0" font-size="5.6" text-anchor="middle" fill="#2e2e2e" >T= 58 fs</text>
<text x="205.6" y="190.6" font-size="7.8" text-anchor="start" fill="#2e2e2e" >(e3)</text>
<rect x="19.00" y="283.90" width="81.40" height="63.00" fill="none" stroke="#bdbdbd" stroke-width="1.0"/>
<text x="24.8" y="353.0" font-size="5.95" text-anchor="middle" fill="#2e2e2e" >45</text>
<text x="45.9" y="353.0" font-size="5.95" text-anchor="middle" fill="#2e2e2e" >55</text>
<text x="67.2" y="353.0" font-size="5.95" text-anchor="middle" fill="#2e2e2e" >65</text>
<text x="88.3" y="353.0" font-size="5.95" text-anchor="middle" fill="#2e2e2e" >75</text>
<text x="60.0" y="361.3" font-size="6.2" text-anchor="middle" fill="#2e2e2e" >X (μm)</text>
<text x="58.4" y="282.6" font-size="5.6" text-anchor="middle" fill="#2e2e2e" >T= 325 fs</text>
<text x="-0.4" y="281.2" font-size="7.8" text-anchor="start" fill="#2e2e2e" >(f1)</text>
<text x="18.3" y="285.8" font-size="5.95" text-anchor="end" fill="#2e2e2e" >20</text>
<text x="18.3" y="301.4" font-size="5.95" text-anchor="end" fill="#2e2e2e" >10</text>
<text x="18.3" y="317.2" font-size="5.95" text-anchor="end" fill="#2e2e2e" >0</text>
<text x="18.3" y="333.0" font-size="5.95" text-anchor="end" fill="#2e2e2e" >-10</text>
<text x="18.3" y="348.8" font-size="5.95" text-anchor="end" fill="#2e2e2e" >-20</text>
<text x="0" y="0" font-size="6.2" text-anchor="middle" fill="#2e2e2e" transform="translate(10.1,315.5) rotate(-90)">Y (μm)</text>
<rect x="122.30" y="283.90" width="81.30" height="63.00" fill="none" stroke="#bdbdbd" stroke-width="1.0"/>
<text x="128.1" y="353.0" font-size="5.95" text-anchor="middle" fill="#2e2e2e" >45</text>
<text x="149.2" y="353.0" font-size="5.95" text-anchor="middle" fill="#2e2e2e" >55</text>
<text x="170.5" y="353.0" font-size="5.95" text-anchor="middle" fill="#2e2e2e" >65</text>
<text x="191.6" y="353.0" font-size="5.95" text-anchor="middle" fill="#2e2e2e" >75</text>
<text x="163.3" y="361.3" font-size="6.2" text-anchor="middle" fill="#2e2e2e" >X (μm)</text>
<text x="162.0" y="282.6" font-size="5.6" text-anchor="middle" fill="#2e2e2e" >T= 325 fs</text>
<text x="102.7" y="281.2" font-size="7.8" text-anchor="start" fill="#2e2e2e" >(f2)</text>
<rect x="225.40" y="283.90" width="80.60" height="63.00" fill="none" stroke="#bdbdbd" stroke-width="1.0"/>
<text x="231.2" y="353.0" font-size="5.95" text-anchor="middle" fill="#2e2e2e" >45</text>
<text x="252.3" y="353.0" font-size="5.95" text-anchor="middle" fill="#2e2e2e" >55</text>
<text x="273.6" y="353.0" font-size="5.95" text-anchor="middle" fill="#2e2e2e" >65</text>
<text x="294.7" y="353.0" font-size="5.95" text-anchor="middle" fill="#2e2e2e" >75</text>
<text x="266.4" y="361.3" font-size="6.2" text-anchor="middle" fill="#2e2e2e" >X (μm)</text>
<text x="262.0" y="282.6" font-size="5.6" text-anchor="middle" fill="#2e2e2e" >T= 325 fs</text>
<text x="205.6" y="281.2" font-size="7.8" text-anchor="start" fill="#2e2e2e" >(f3)</text>
<rect x="19.00" y="375.00" width="81.40" height="63.00" fill="none" stroke="#bdbdbd" stroke-width="1.0"/>
<text x="24.8" y="444.1" font-size="5.95" text-anchor="middle" fill="#2e2e2e" >45</text>
<text x="45.9" y="444.1" font-size="5.95" text-anchor="middle" fill="#2e2e2e" >55</text>
<text x="67.2" y="444.1" font-size="5.95" text-anchor="middle" fill="#2e2e2e" >65</text>
<text x="88.3" y="444.1" font-size="5.95" text-anchor="middle" fill="#2e2e2e" >75</text>
<text x="60.0" y="452.4" font-size="6.2" text-anchor="middle" fill="#2e2e2e" >X (μm)</text>
<text x="58.4" y="373.7" font-size="5.6" text-anchor="middle" fill="#2e2e2e" >T= 325 fs</text>
<text x="-0.4" y="372.3" font-size="7.8" text-anchor="start" fill="#2e2e2e" >(g1)</text>
<text x="18.3" y="376.9" font-size="5.95" text-anchor="end" fill="#2e2e2e" >20</text>
<text x="18.3" y="392.5" font-size="5.95" text-anchor="end" fill="#2e2e2e" >10</text>
<text x="18.3" y="408.3" font-size="5.95" text-anchor="end" fill="#2e2e2e" >0</text>
<text x="18.3" y="424.1" font-size="5.95" text-anchor="end" fill="#2e2e2e" >-10</text>
<text x="18.3" y="439.9" font-size="5.95" text-anchor="end" fill="#2e2e2e" >-20</text>
<text x="0" y="0" font-size="6.2" text-anchor="middle" fill="#2e2e2e" transform="translate(10.1,406.6) rotate(-90)">Y (μm)</text>
<rect x="122.30" y="375.00" width="81.30" height="63.00" fill="none" stroke="#bdbdbd" stroke-width="1.0"/>
<text x="128.1" y="444.1" font-size="5.95" text-anchor="middle" fill="#2e2e2e" >45</text>
<text x="149.2" y="444.1" font-size="5.95" text-anchor="middle" fill="#2e2e2e" >55</text>
<text x="170.5" y="444.1" font-size="5.95" text-anchor="middle" fill="#2e2e2e" >65</text>
<text x="191.6" y="444.1" font-size="5.95" text-anchor="middle" fill="#2e2e2e" >75</text>
<text x="163.3" y="452.4" font-size="6.2" text-anchor="middle" fill="#2e2e2e" >X (μm)</text>
<text x="162.0" y="373.7" font-size="5.6" text-anchor="middle" fill="#2e2e2e" >T= 325 fs</text>
<text x="102.7" y="372.3" font-size="7.8" text-anchor="start" fill="#2e2e2e" >(g2)</text>
<rect x="225.40" y="375.00" width="80.60" height="63.00" fill="none" stroke="#bdbdbd" stroke-width="1.0"/>
<text x="231.2" y="444.1" font-size="5.95" text-anchor="middle" fill="#2e2e2e" >45</text>
<text x="252.3" y="444.1" font-size="5.95" text-anchor="middle" fill="#2e2e2e" >55</text>
<text x="273.6" y="444.1" font-size="5.95" text-anchor="middle" fill="#2e2e2e" >65</text>
<text x="294.7" y="444.1" font-size="5.95" text-anchor="middle" fill="#2e2e2e" >75</text>
<text x="266.4" y="452.4" font-size="6.2" text-anchor="middle" fill="#2e2e2e" >X (μm)</text>
<text x="262.0" y="373.7" font-size="5.6" text-anchor="middle" fill="#2e2e2e" >T= 325 fs</text>
<text x="205.6" y="372.3" font-size="7.8" text-anchor="start" fill="#2e2e2e" >(g3)</text>
<rect x="318" y="103.0" width="5.2" height="63" fill="url(#cbE)"/>
<text x="326.3" y="104.9" font-size="5.6" fill="#2e2e2e">40.0</text>
<text x="326.3" y="120.7" font-size="5.6" fill="#2e2e2e">30.0</text>
<text x="326.3" y="136.4" font-size="5.6" fill="#2e2e2e">20.0</text>
<text x="326.3" y="152.2" font-size="5.6" fill="#2e2e2e">10.0</text>
<text x="326.3" y="167.9" font-size="5.6" fill="#2e2e2e">0.0</text>
<text x="0" y="0" font-size="5.7" text-anchor="middle" fill="#2e2e2e" transform="translate(342.4,134.5) rotate(90)">Electron energy (MeV)</text>
<rect x="318" y="193.3" width="5.2" height="63" fill="url(#cbJ)"/>
<text x="326.3" y="195.2" font-size="5.6" fill="#2e2e2e">0.20</text>
<text x="326.3" y="211.0" font-size="5.6" fill="#2e2e2e">0.15</text>
<text x="326.3" y="226.7" font-size="5.6" fill="#2e2e2e">0.10</text>
<text x="326.3" y="242.5" font-size="5.6" fill="#2e2e2e">0.05</text>
<text x="326.3" y="258.2" font-size="5.6" fill="#2e2e2e">0.00</text>
<text x="0" y="0" font-size="5.7" text-anchor="middle" fill="#2e2e2e" transform="translate(342.6,224.8) rotate(90)">E<tspan font-size="3.8" dy="1">k</tspan><tspan dy="-1">/T</tspan><tspan font-size="3.8" dy="1">max</tspan><tspan dy="-1"> (a.u.)</tspan></text>
<rect x="318" y="283.9" width="5.2" height="63" fill="url(#cbJ)"/>
<text x="326.3" y="286.5" font-size="5.8" fill="#2e2e2e">1×10<tspan font-size="3.4" dy="-2">1</tspan></text>
<text x="326.3" y="301.7" font-size="5.8" fill="#2e2e2e">3×10<tspan font-size="3.4" dy="-2">0</tspan></text>
<text x="326.3" y="317.9" font-size="5.8" fill="#2e2e2e">6×10<tspan font-size="3.4" dy="-2">-1</tspan></text>
<text x="326.3" y="333.9" font-size="5.8" fill="#2e2e2e">1×10<tspan font-size="3.4" dy="-2">-1</tspan></text>
<text x="326.3" y="348.7" font-size="5.8" fill="#2e2e2e">3×10<tspan font-size="3.4" dy="-2">-2</tspan></text>
<text x="0" y="0" font-size="5.2" text-anchor="middle" fill="#2e2e2e" transform="translate(346.3,315.2) rotate(90)">Proton density (a.u.)</text>
<rect x="318" y="375.0" width="5.2" height="63" fill="url(#cbJ)"/>
<text x="326.3" y="376.9" font-size="5.6" fill="#2e2e2e">80.0</text>
<text x="326.3" y="392.6" font-size="5.6" fill="#2e2e2e">60.0</text>
<text x="326.3" y="408.4" font-size="5.6" fill="#2e2e2e">40.0</text>
<text x="326.3" y="424.1" font-size="5.6" fill="#2e2e2e">20.0</text>
<text x="326.3" y="439.9" font-size="5.6" fill="#2e2e2e">0.0</text>
<text x="0" y="0" font-size="5.8" text-anchor="middle" fill="#2e2e2e" transform="translate(342.6,407.3) rotate(90)">Proton energy (MeV)</text>
</svg></body></html>
